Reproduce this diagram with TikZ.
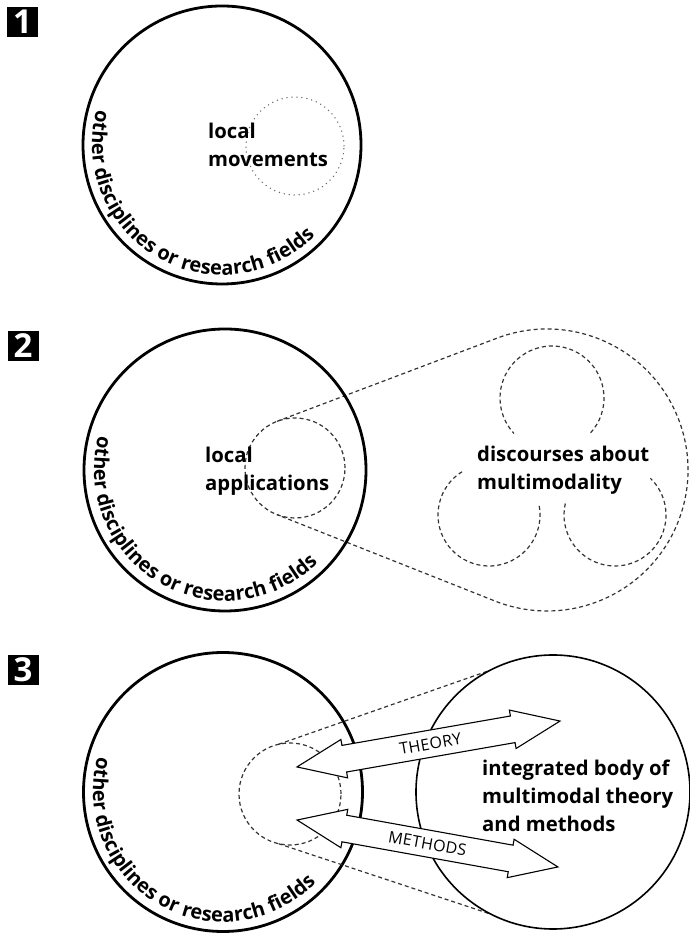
\documentclass[tikz,border=0pt]{standalone}
\usepackage{fontspec}
\setmainfont{Open Sans}
\usetikzlibrary{calc,decorations.text}

\tikzset{
  bigring/.style={line width=2.8pt},
  outerring/.style={line width=1.6pt},
  dotring/.style={line width=1.5pt, black!60, dash pattern=on 0pt off 5pt, line cap=round},
  dashring/.style={line width=1.2pt, black!80, dash pattern=on 4pt off 3pt},
  badge/.style={fill=black, text=white, font=\bfseries\fontsize{33}{33}\selectfont,
    minimum width=31pt, minimum height=30pt, inner sep=0pt},
  biglabel/.style={font=\bfseries\fontsize{20.3}{28}\selectfont, align=left,
    anchor=north west, inner sep=0pt},
  armlabel/.style={font=\fontsize{16}{18}\selectfont\addfontfeature{LetterSpace=2}, inner sep=0pt},
  blockarrow/.style={draw, fill=white, line width=1.1pt, line join=miter},
  ringtext/.style={decorate, decoration={text along path, text align=center,
    text={|\bfseries\fontsize{20}{24}\selectfont|other disciplines or research fields}}},
}

\begin{document}
\begin{tikzpicture}[x=1pt, y=1pt]
\useasboundingbox (0,0) rectangle (689,934);

% ---------- panel 1 ----------
\coordinate (c1) at (222,789);
\coordinate (s1) at (295,788);
\draw[bigring] (c1) circle[radius=139pt];
\draw[dotring] (s1) circle[radius=49pt];
\node[biglabel] (lm) at (208,811) {local\\movements};
\path[ringtext] ($(c1)+(150:130pt)$) arc[start angle=150, end angle=330, radius=130pt];
\node[badge] (b1) at (22.5,912) {1};

% ---------- panel 2 ----------
\coordinate (c2) at (225,464);
\coordinate (s2) at (295,466);
\coordinate (g2) at (547,464);
\coordinate (k1) at (552,536);
\coordinate (k2) at (489,419);
\coordinate (k3) at (615,419);
\coordinate (t2a) at ($(s2)+(111.2:50pt)$);
\coordinate (t2b) at ($(g2)+(111.2:141pt)$);
\coordinate (t2c) at ($(s2)+(-111.2:50pt)$);
\draw[dashring] (s2) circle[radius=50pt];
\draw[dashring] (t2a) -- (t2b) arc[start angle=111.2, end angle=-111.2, radius=141pt] -- (t2c);
\draw[dashring] ($(k1)+(-42:52pt)$) arc[start angle=-42, end angle=223, radius=52pt];
\draw[dashring] ($(k2)+(122:51pt)$) arc[start angle=122, end angle=371, radius=51pt];
\draw[dashring] ($(k3)+(167:51pt)$) arc[start angle=167, end angle=406, radius=51pt];
\draw[bigring] (c2) circle[radius=141pt];
\node[biglabel] (la) at (205,487) {local\\applications};
\node[biglabel] (dm) at (477,488) {discourses about\\multimodality};
\path[ringtext] ($(c2)+(150:131pt)$) arc[start angle=150, end angle=330, radius=131pt];
\node[badge] (b2) at (23,588) {2};

% ---------- panel 3 ----------
\coordinate (c3) at (223,142);
\coordinate (s3) at (290,140);
\coordinate (g3) at (553,142);
\coordinate (t3a) at ($(s3)+(103:51pt)$);
\coordinate (t3b) at ($(g3)+(117.3:137pt)$);
\coordinate (t3c) at ($(s3)+(-103:51pt)$);
\coordinate (t3d) at ($(g3)+(-116.7:137pt)$);
\draw[bigring] (c3) circle[radius=139.5pt];
\draw[dashring] (s3) circle[radius=51pt];
\draw[dashring] (t3a) -- (t3b);
\draw[dashring] (t3c) -- (t3d);
\draw[outerring] (g3) circle[radius=137pt];

% double block arrows
\coordinate (ath) at (428.5,190);
\coordinate (ame) at (427.5,90.5);
\begin{scope}[shift={(ath)}, rotate=9.9]
  \draw[blockarrow] (-133.5,0) -- (-85.5,19.5) -- (-85.5,13.5) -- (85.5,13.5) -- (85.5,19.5)
    -- (133.5,0) -- (85.5,-19.5) -- (85.5,-13.5) -- (-85.5,-13.5) -- (-85.5,-19.5) -- cycle;
  \node[armlabel, rotate=9.9] (theory) at (2,0) {THEORY};
\end{scope}
\begin{scope}[shift={(ame)}, rotate=-10.2]
  \draw[blockarrow] (-132.5,0) -- (-84.5,19.5) -- (-84.5,13.5) -- (84.5,13.5) -- (84.5,19.5)
    -- (132.5,0) -- (84.5,-19.5) -- (84.5,-13.5) -- (-84.5,-13.5) -- (-84.5,-19.5) -- cycle;
  \node[armlabel, rotate=-10.2] (methods) at (0,0) {METHODS};
\end{scope}

\node[biglabel] (ib) at (482,174) {integrated body of\\multimodal theory\\and methods};
\path[ringtext] ($(c3)+(150:130pt)$) arc[start angle=150, end angle=330, radius=130pt];
\node[badge] (b3) at (23,264) {3};
\end{tikzpicture}
\end{document}
